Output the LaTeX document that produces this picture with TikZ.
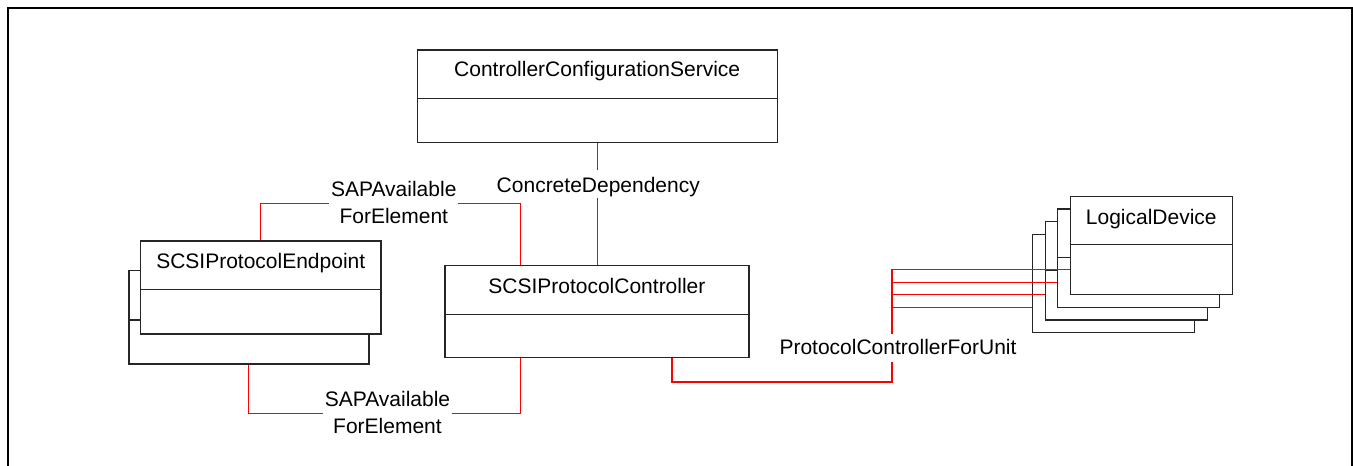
\documentclass[tikz,border=0pt]{standalone}
\usepackage{fontspec}
\setmainfont{Liberation Sans}
\begin{document}
\begin{tikzpicture}[x=1pt,y=-1pt,
  cls/.style={draw=black!85, line width=1.2pt, fill=white, rectangle, inner sep=0pt, anchor=north west},
  divider/.style={draw=black!85, line width=1.2pt},
  title/.style={anchor=base, inner sep=0pt, font=\fontsize{21}{25}\selectfont},
  rel/.style={draw=red, line width=1pt},
  relthick/.style={draw=red, line width=1.8pt},
  lbl/.style={fill=white, inner xsep=2pt, inner ysep=0pt, anchor=base, font=\fontsize{21}{26.6}\selectfont},
  frame/.style={draw=black, line width=2.2pt}
]
\useasboundingbox (0,0) rectangle (1353,466);
\clip (0,0) rectangle (1353,466);
\draw[frame] (7.7,480) -- (7.7,7.7) -- (1351.7,7.7) -- (1351.7,480);

% ControllerConfigurationService
\node[cls, minimum width=360.2pt, minimum height=92.4pt] (ccs) at (416.5,49.3) {};
\draw[divider] ([yshift=-49pt]ccs.north west) -- ([yshift=-49pt]ccs.north east);
\node[title] (ccsT) at ([yshift=-27.5pt]ccs.north) {ControllerConfigurationService};

% SCSIProtocolEndpoint (stacked)
\node[cls, minimum width=240pt, minimum height=93.3pt] (epb) at (128.3,270) {};
\draw[divider] ([yshift=-50pt]epb.north west) -- ([yshift=-50pt]epb.north east);
\node[cls, minimum width=240.3pt, minimum height=93pt] (ep) at (140,240.3) {};
\draw[divider] ([yshift=-49pt]ep.north west) -- ([yshift=-49pt]ep.north east);
\node[title] (epT) at ([yshift=-28pt]ep.north) {SCSIProtocolEndpoint};

% SCSIProtocolController
\node[cls, minimum width=304pt, minimum height=92.2pt] (ctrl) at (444.3,265) {};
\draw[divider] ([yshift=-49.3pt]ctrl.north west) -- ([yshift=-49.3pt]ctrl.north east);
\node[title] (ctrlT) at ([yshift=-28.3pt]ctrl.north) {SCSIProtocolController};

% LogicalDevice (stacked)
\foreach \n/\x/\y in {4/1032.2/233.8, 3/1044.7/221.1, 2/1057.2/208.4, 1/1069.7/195.7} {
  \node[cls, minimum width=162pt, minimum height=98.3pt] (ld\n) at (\x,\y) {};
  \draw[divider] ([yshift=-49pt]ld\n.north west) -- ([yshift=-49pt]ld\n.north east);
  \coordinate (ldin\n) at ([yshift=-73.6pt]ld\n.north west);
}
\node[title] (ldT) at ([yshift=-28.3pt]ld1.north) {LogicalDevice};

% connectors
\coordinate (ctrlSapTop) at ([xshift=76.4pt]ctrl.north west);
\coordinate (ctrlSapBot) at ([xshift=76.4pt]ctrl.south west);
\coordinate (ctrlPU) at ([xshift=227.7pt]ctrl.south west);
\coordinate (busBot) at (891.8,381.7);
\coordinate (busTop) at (891.8,269.3);

\draw[rel] (ep.north) -- ([yshift=37pt]ep.north) -| (ctrlSapTop);
\draw[rel] (epb.south) |- ([yshift=-55.5pt]ctrlSapBot) -- (ctrlSapBot);
\draw[rel] (ccs.south) -- (ccs.south |- ctrl.north);
\draw[relthick] (ctrlPU) |- (busBot) -- (busTop);
\foreach \n in {1,2,3,4} {
  \draw[rel] (busTop |- ldin\n) -- (ldin\n);
}

% labels
\node[lbl] (sap1) at (393.8,196.7) {\begin{tabular}[t]{@{}c@{}}SAPAvailable\\ForElement\end{tabular}};
\node[lbl] (sap2) at (387.5,406.7) {\begin{tabular}[t]{@{}c@{}}SAPAvailable\\ForElement\end{tabular}};
\node[lbl, text height=22.7pt, text depth=5.3pt] (cdep) at (598.3,192.7) {ConcreteDependency};
\node[lbl, text height=20pt, text depth=7.7pt] (pcfu) at (898,354) {ProtocolControllerForUnit};
\end{tikzpicture}
\end{document}
